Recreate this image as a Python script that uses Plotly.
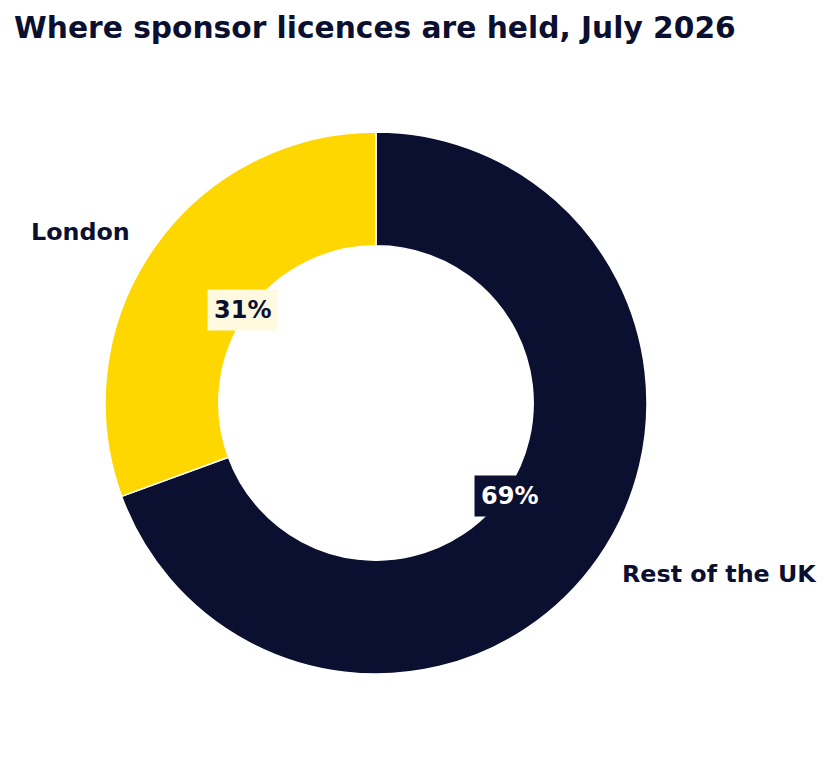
import math
import plotly.graph_objects as go

# Data
categories = ["London", "Rest of the UK"]
shares = [30.6, 69.4]
slice_colors = ["#FFD700", "#0B1030"]
pct_text_colors = ["#0B1030", "#FFFFFF"]
pct_box_colors = ["#FFF9E0", "#0B1030"]
title_text = "Where sponsor licences are held, July 2026"

NAVY = "#0B1030"
FONT = "DejaVu Sans"

W, H = 829, 757
ml, mr, mt, mb = 105, 182, 132, 83

# Plotly always draws the first slice just clockwise of 12 o'clock, so feed the
# slices in reverse order, clockwise, to get London counter-clockwise from the top.
fig = go.Figure(
    go.Pie(
        labels=categories[::-1],
        values=shares[::-1],
        hole=0.58,
        sort=False,
        direction="clockwise",
        rotation=0,
        marker=dict(colors=slice_colors[::-1], line=dict(color="white", width=1.5)),
        textinfo="none",
        hoverinfo="skip",
        showlegend=False,
        domain=dict(x=[0, 1], y=[0, 1]),
    )
)

total = sum(shares)
annotations = []
cum = 0.0
for i, (cat, v) in enumerate(zip(categories, shares)):
    mid = math.radians(90 + 360 * (cum + v / 2) / total)
    cum += v
    c, s = math.cos(mid), math.sin(mid)
    # percentage label
    annotations.append(dict(
        x=0.5 + 0.5 * 0.6 * c, y=0.5 + 0.5 * 0.6 * s,
        xref="paper", yref="paper", showarrow=False,
        text=f"{round(v / total * 100)}%",
        font=dict(family=FONT, size=24, color=pct_text_colors[i], weight="bold"),
        bgcolor=pct_box_colors[i], borderpad=6,
        xanchor="center", yanchor="middle",
    ))
    # category label
    annotations.append(dict(
        x=0.5 + 0.5 * 1.1 * c, y=0.5 + 0.5 * 1.1 * s,
        xref="paper", yref="paper", showarrow=False,
        text=cat,
        font=dict(family=FONT, size=23.8, color=NAVY, weight="bold"),
        xanchor="right" if c < 0 else "left", yanchor="middle",
    ))

fig.update_layout(
    width=W, height=H,
    margin=dict(l=ml, r=mr, t=mt, b=mb),
    paper_bgcolor="white", plot_bgcolor="white",
    title=dict(
        text=title_text,
        font=dict(family=FONT, size=29.7, color=NAVY, weight="bold"),
        xref="container", yref="container",
        x=14 / W, xanchor="left",
        y=1 - 28 / H, yanchor="middle",
    ),
    annotations=annotations,
)

fig.write_html("out.html")
